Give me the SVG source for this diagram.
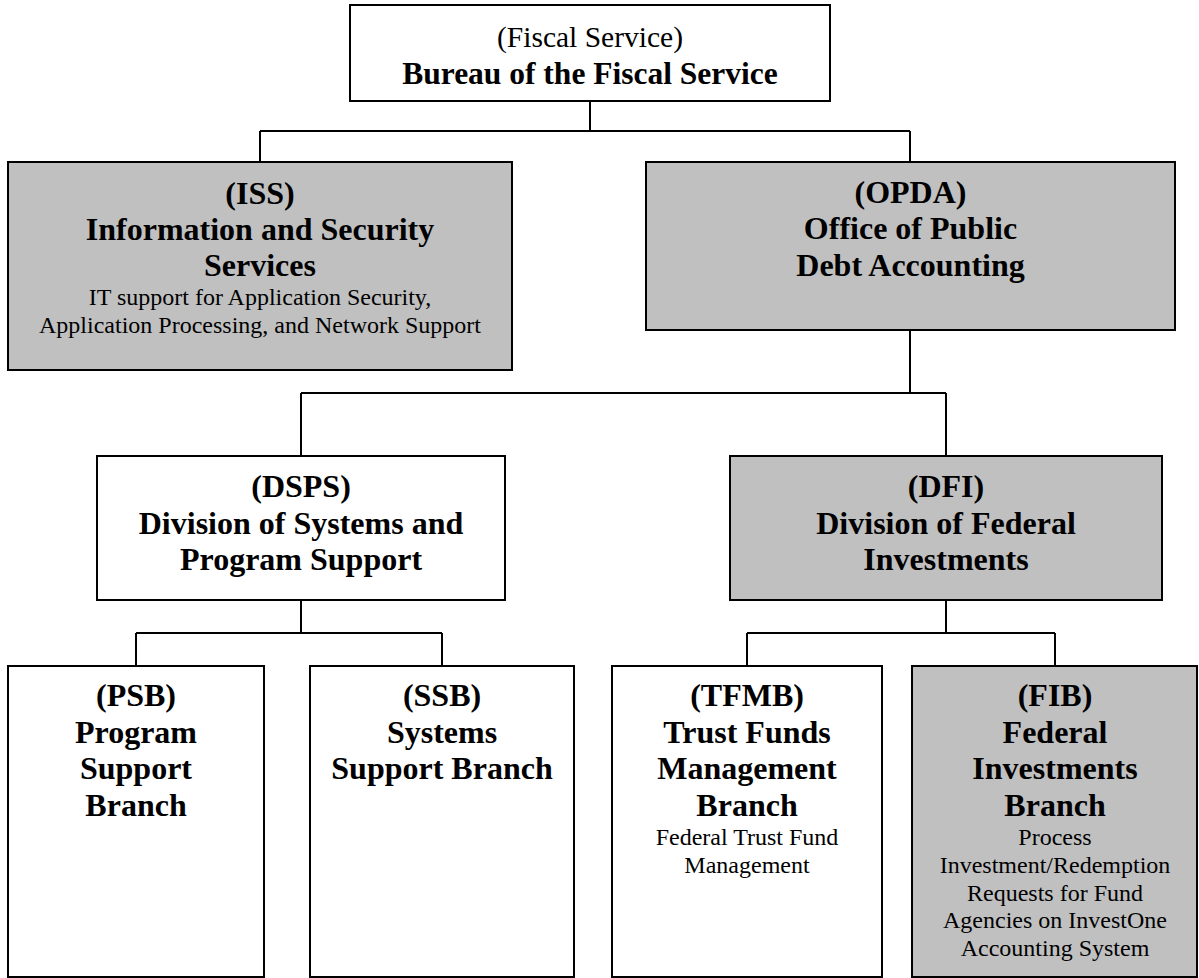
<svg xmlns="http://www.w3.org/2000/svg" width="1199" height="978" viewBox="0 0 1199 978">
<style>
.box{stroke:#000;stroke-width:2;fill:#fff}
.gray{fill:#c0c0c0}
.b{font-family:"Liberation Serif","Times New Roman",serif;font-weight:bold;font-size:32px;text-anchor:middle;fill:#000}
.r{font-family:"Liberation Serif","Times New Roman",serif;font-size:24px;text-anchor:middle;fill:#000}
.rt{font-family:"Liberation Serif","Times New Roman",serif;font-size:29.5px;text-anchor:middle;fill:#000}
.c{stroke:#000;stroke-width:2;fill:none}
</style>
<rect width="1199" height="978" fill="#fff"/>
<g id="connectors">
<path class="c" d="M590 101V131M260 131H910M260 131V162M910 131V162"/>
<path class="c" d="M910 330V393M301 393H946M301 393V456M946 393V456"/>
<path class="c" d="M301 600V633M136 633H442M136 633V666M442 633V666"/>
<path class="c" d="M946 600V633M747 633H1055M747 633V666M1055 633V666"/>
</g>
<g id="fiscal">
<rect class="box" x="350" y="5" width="480" height="96"/>
<text class="rt" x="590" y="47">(Fiscal Service)</text>
<text class="b" x="590" y="84" style="font-size:31.5px">Bureau of the Fiscal Service</text>
</g>
<g id="iss">
<rect class="box gray" x="8" y="162" width="504" height="208"/>
<text class="b" x="260" y="204">(ISS)</text>
<text class="b" x="260" y="240">Information and Security</text>
<text class="b" x="260" y="276">Services</text>
<text class="r" x="260" y="305">IT support for Application Security,</text>
<text class="r" x="260" y="333">Application Processing, and Network Support</text>
</g>
<g id="opda">
<rect class="box gray" x="646" y="162" width="529" height="168"/>
<text class="b" x="910.5" y="203">(OPDA)</text>
<text class="b" x="910.5" y="239">Office of Public</text>
<text class="b" x="910.5" y="276">Debt Accounting</text>
</g>
<g id="dsps">
<rect class="box" x="97" y="456" width="408" height="144"/>
<text class="b" x="301" y="497">(DSPS)</text>
<text class="b" x="301" y="533.5">Division of Systems and</text>
<text class="b" x="301" y="570">Program Support</text>
</g>
<g id="dfi">
<rect class="box gray" x="730" y="456" width="432" height="144"/>
<text class="b" x="946" y="497">(DFI)</text>
<text class="b" x="946" y="533.5">Division of Federal</text>
<text class="b" x="946" y="570">Investments</text>
</g>
<g id="psb">
<rect class="box" x="8" y="666" width="256" height="311"/>
<text class="b" x="136" y="706">(PSB)</text>
<text class="b" x="136" y="742.5">Program</text>
<text class="b" x="136" y="779">Support</text>
<text class="b" x="136" y="815.5">Branch</text>
</g>
<g id="ssb">
<rect class="box" x="310" y="666" width="264" height="311"/>
<text class="b" x="442" y="706">(SSB)</text>
<text class="b" x="442" y="742.5">Systems</text>
<text class="b" x="442" y="779">Support Branch</text>
</g>
<g id="tfmb">
<rect class="box" x="612" y="666" width="270" height="311"/>
<text class="b" x="747" y="706">(TFMB)</text>
<text class="b" x="747" y="742.5">Trust Funds</text>
<text class="b" x="747" y="779">Management</text>
<text class="b" x="747" y="815.5">Branch</text>
<text class="r" x="747" y="845">Federal Trust Fund</text>
<text class="r" x="747" y="873">Management</text>
</g>
<g id="fib">
<rect class="box gray" x="912" y="666" width="285" height="311"/>
<text class="b" x="1055" y="706">(FIB)</text>
<text class="b" x="1055" y="742.5">Federal</text>
<text class="b" x="1055" y="779">Investments</text>
<text class="b" x="1055" y="815.5">Branch</text>
<text class="r" x="1055" y="845">Process</text>
<text class="r" x="1055" y="873">Investment/Redemption</text>
<text class="r" x="1055" y="900.5">Requests for Fund</text>
<text class="r" x="1055" y="928">Agencies on InvestOne</text>
<text class="r" x="1055" y="955.5">Accounting System</text>
</g>
</svg>
